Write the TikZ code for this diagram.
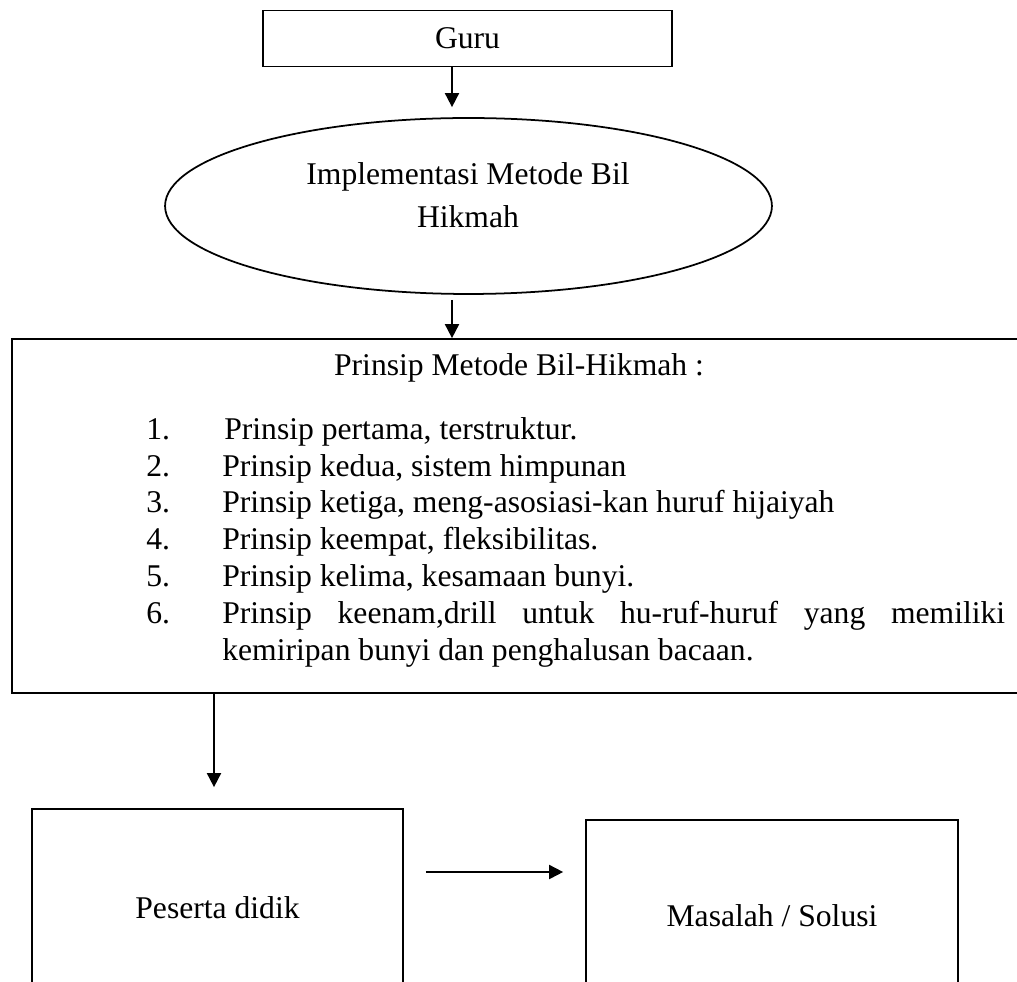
\documentclass[tikz,border=0pt]{standalone}
\usepackage{fontspec}
\setmainfont{Liberation Serif}
\usetikzlibrary{arrows.meta,shapes.geometric,calc}

\begin{document}
\begin{tikzpicture}[x=0.02cm,y=-0.02cm,
  font=\fontsize{18}{21}\selectfont,
  box/.style={draw,line width=1pt,rectangle,inner sep=0pt},
  oval/.style={draw,line width=1pt,ellipse,inner sep=0pt},
  arr/.style={line width=1pt,-{Triangle[length=8pt,width=8pt]}}]
  \useasboundingbox (0,0) rectangle (1017,982);
  \clip (0,0) rectangle (1017,982);
  % columns of the vertical arrows
  \coordinate (ax) at (452,0);
  \coordinate (bx) at (214,0);
  % top
  \node[box,minimum width=8.18cm,minimum height=1.12cm] (guru) at (467.5,38.5) {Guru};
  \node[oval,minimum width=12.14cm,minimum height=3.52cm] (impl) at (468.5,206) {};
  \node[align=center,font=\fontsize{18}{24.4}\selectfont] (impltxt) at (468,195) {Implementasi Metode Bil\\Hikmah};
  % principles
  \node[box,minimum width=20.56cm,minimum height=7.08cm] (prinsip) at (526,516) {};
  \node[anchor=base] (judul) at (519,376) {Prinsip Metode Bil-Hikmah :};
  \node[anchor=north west,inner sep=0pt] (daftar) at (146,413) {%
    \begin{tabular}{@{}p{1.52cm}@{}p{15.66cm}@{}}
    1. & \hspace{0.04cm}Prinsip pertama, terstruktur.\\
    2. & Prinsip kedua, sistem himpunan\\
    3. & Prinsip ketiga, meng-asosiasi-kan huruf hijaiyah\\
    4. & Prinsip keempat, fleksibilitas.\\
    5. & Prinsip kelima, kesamaan bunyi.\\
    6. & \tolerance=10000 Prinsip keenam,drill untuk hu-ruf-huruf yang memiliki\linebreak kemiripan bunyi dan penghalusan bacaan.
    \end{tabular}};
  % bottom
  \node[box,minimum width=7.42cm,minimum height=3.96cm] (peserta) at (217.5,908) {Peserta didik};
  \node[box,minimum width=7.44cm,minimum height=3.84cm] (masalah) at (772,916) {Masalah / Solusi};
  % arrows
  \draw[arr,shorten >=0.2cm] (guru.south -| ax) -- (impl.north -| ax);
  \draw[arr,shorten <=0.1cm] (impl.south -| ax) -- (prinsip.north -| ax);
  \draw[arr,shorten >=0.42cm] (prinsip.south -| bx) -- (peserta.north -| bx);
  \draw[arr,shorten <=0.44cm,shorten >=0.44cm] ([yshift=0.72cm]peserta.east) coordinate (h) -- (h -| masalah.west);
\end{tikzpicture}
\end{document}
